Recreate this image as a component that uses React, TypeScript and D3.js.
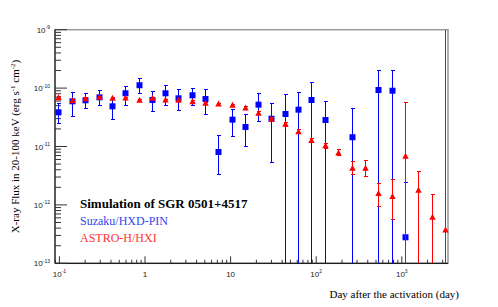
import React from "react";
import * as d3 from "d3";

// days after the activation (log axis)
const suzakuDays = [0.097, 0.14, 0.2, 0.29, 0.41, 0.59, 0.84, 1.2, 1.7, 2.45, 3.5, 5.0, 7.2, 10.3, 14.7, 21, 30, 43, 62, 88, 127, 260, 530, 760, 1100];
const suzakuFlux = [3.85e-11, 5.94e-11, 6.18e-11, 6.95e-11, 4.88e-11, 8.15e-11, 1.12e-10, 6.25e-11, 8.15e-11, 6.68e-11, 7.53e-11, 6.5e-11, 8.05e-12, 2.88e-11, 2.16e-11, 5.2e-11, 2.99e-11, 3.6e-11, 4.27e-11, 6.25e-11, 2.84e-11, 1.44e-11, 9.27e-11, 9.02e-11, 2.79e-13];
const suzakuHi = [5.49e-11, 8.47e-11, 7.93e-11, 9.17e-11, 6.68e-11, 1.07e-10, 1.47e-10, 8.67e-11, 1.09e-10, 9.54e-11, 9.77e-11, 9.54e-11, 1.56e-11, 4.34e-11, 3.51e-11, 8.02e-11, 5.41e-11, 7.62e-11, 8.47e-11, 1.26e-10, 6.01e-11, 4.51e-11, 2.02e-10, 2.02e-10, 2.44e-12];
// 0 = error bar reaches below the axis
const suzakuLo = [2.5e-11, 3.24e-11, 4.51e-11, 4.94e-11, 2.92e-11, 5.0e-11, 7.93e-11, 3.9e-11, 5.0e-11, 4.1e-11, 5.07e-11, 3.56e-11, 3.34e-12, 1.46e-11, 1.01e-11, 2.66e-11, 5.36e-12, 0, 0, 0, 0, 0, 0, 0, 0];

const hxiDays = [0.097, 0.14, 0.2, 0.29, 0.41, 0.59, 0.84, 1.2, 1.7, 2.45, 3.5, 5.0, 7.2, 10.3, 14.7, 21, 30, 43, 62, 88, 127, 181, 260, 372, 530, 760, 1100, 1560, 2230, 3200];
const hxiFlux = [6.85e-11, 6.09e-11, 6.58e-11, 6.95e-11, 6.68e-11, 6.76e-11, 6.18e-11, 6.68e-11, 6.25e-11, 6.18e-11, 5.85e-11, 5.49e-11, 5.34e-11, 5.07e-11, 4.56e-11, 3.7e-11, 2.92e-11, 2.4e-11, 1.79e-11, 1.27e-11, 1.03e-11, 7.74e-12, 4.24e-12, 4.24e-12, 1.57e-12, 1.39e-12, 6.79e-12, 1.78e-12, 6.14e-13, 3.72e-13];
const hxiHi = [7.1e-11, 6.3e-11, 6.8e-11, 7.2e-11, 6.9e-11, 7.0e-11, 6.4e-11, 6.9e-11, 6.5e-11, 6.4e-11, 6.05e-11, 5.7e-11, 5.55e-11, 5.3e-11, 4.8e-11, 3.9e-11, 3.1e-11, 2.6e-11, 1.95e-11, 1.37e-11, 1.135e-11, 9.06e-12, 5.58e-12, 5.81e-12, 2.32e-12, 2.74e-12, 5.71e-11, 3.8e-12, 1.48e-12, 2e-9];
const hxiLo = [6.6e-11, 5.9e-11, 6.35e-11, 6.7e-11, 6.45e-11, 6.5e-11, 5.95e-11, 6.45e-11, 6.0e-11, 5.95e-11, 5.65e-11, 5.3e-11, 5.1e-11, 4.85e-11, 4.3e-11, 3.5e-11, 2.75e-11, 2.22e-11, 1.65e-11, 1.17e-11, 9.3e-12, 6.95e-12, 3.32e-12, 3.04e-12, 9.4e-13, 5.67e-13, 0, 0, 0, 0];

const xTickVals = [0.1, 1, 10, 100, 1000];
const xTickLabels = [["10", "-1"], ["1", ""], ["10", ""], ["10", "2"], ["10", "3"]];
const yTickVals = [1e-9, 1e-10, 1e-11, 1e-12, 1e-13];
const yTickExps = ["-9", "-10", "-11", "-12", "-13"];

const legendTitle = "Simulation of SGR 0501+4517";
const seriesNames = ["Suzaku/HXD-PIN", "ASTRO-H/HXI"];

const W = 498;
const H = 307;
const left = 55, right = 448, top = 29.7, bottom = 263.3;

const x = d3.scaleLog().domain([0.0888, 3465]).range([left, right]);
const y = d3.scaleLog().domain([1e-13, 1e-9]).range([bottom, top]);

const blue = "#0000ff";
const red = "#ff0000";

// snap to pixel centre so overlapping red/blue bars don't blur into black
const px = (v: number) => Math.round(v) + 0.5;

function errY(v: number) {
  if (v <= 0) return bottom;
  return Math.max(top, Math.min(bottom, y(v)));
}

function ErrorBars({ days, hi, lo, color }: any) {
  return (
    <g stroke={color} strokeWidth={1} shapeRendering="crispEdges">
      {days.map((d: number, i: number) => {
        const cx = px(x(d));
        const y1 = errY(hi[i]);
        const y2 = errY(lo[i]);
        return (
          <g key={i}>
            <line x1={cx} x2={cx} y1={y1} y2={y2} />
            {y1 > top && <line x1={cx - 2} x2={cx + 2} y1={y1} y2={y1} />}
            {y2 < bottom && <line x1={cx - 2} x2={cx + 2} y1={y2} y2={y2} />}
          </g>
        );
      })}
    </g>
  );
}

export default function App() {
  const serif = "'Liberation Serif', 'Times New Roman', serif";
  const sans = "'Liberation Sans', Arial, sans-serif";
  const xMinor = x.ticks();
  const yMinor = y.ticks();
  const isDecade = (v: number) => Math.abs(Math.log10(v) - Math.round(Math.log10(v))) < 1e-6;

  return (
    <svg width={W} height={H} style={{ position: "absolute", left: 0, top: 0, background: "#fff" }}>
      {/* frame */}
      <rect x={left} y={top} width={right - left} height={bottom - top} fill="none" stroke="#999" strokeWidth={1.5} />
      <line x1={left} x2={left} y1={top} y2={bottom} stroke="#000" />
      <line x1={left} x2={right} y1={bottom} y2={bottom} stroke="#000" />

      {/* x ticks */}
      <g stroke="#333">
        {xMinor.map((v, i) => {
          const len = isDecade(v) ? 7 : 3.5;
          return <line key={i} x1={x(v)} x2={x(v)} y1={bottom} y2={bottom - len} />;
        })}
      </g>
      {/* y ticks */}
      <g stroke="#333">
        {yMinor.map((v, i) => {
          const len = isDecade(v) ? 12 : 6;
          return <line key={i} x1={left} x2={left + len} y1={y(v)} y2={y(v)} />;
        })}
      </g>

      {/* tick labels */}
      <g fontFamily={sans} fontSize={8} fill="#222">
        {xTickVals.map((v, i) => (
          <text key={i} x={x(v)} y={276.5} textAnchor="middle">
            {xTickLabels[i][0]}
            {xTickLabels[i][1] && (
              <tspan fontSize={5} dy={-3.5}>{xTickLabels[i][1]}</tspan>
            )}
          </text>
        ))}
        {yTickVals.map((v, i) => (
          <text key={i} x={50} y={y(v) + 3} textAnchor="end">
            10<tspan fontSize={5} dy={-3.5}>{yTickExps[i]}</tspan>
          </text>
        ))}
      </g>

      {/* axis titles */}
      <text
        transform={`translate(19, ${(top + bottom) / 2}) rotate(-90)`}
        textAnchor="middle"
        fontFamily={serif}
        fontSize={11}
        fill="#000"
      >
        X-ray Flux in 20-100 keV (erg s<tspan fontSize={7} dy={-4}>-1</tspan>
        <tspan dy={4}> cm</tspan><tspan fontSize={7} dy={-4}>-2</tspan>
        <tspan dy={4}>)</tspan>
      </text>
      <text x={459} y={298} textAnchor="end" fontFamily={serif} fontSize={11} fill="#000">
        Day after the activation (day)
      </text>

      {/* data: Suzaku */}
      <ErrorBars days={suzakuDays} hi={suzakuHi} lo={suzakuLo} color={blue} />
      <g fill={blue}>
        {suzakuDays.map((d, i) => (
          <rect key={i} x={px(x(d)) - 3} y={y(suzakuFlux[i]) - 3} width={6} height={6} />
        ))}
      </g>

      {/* data: ASTRO-H */}
      <ErrorBars days={hxiDays} hi={hxiHi} lo={hxiLo} color={red} />
      <g fill={red}>
        {hxiDays.map((d, i) => {
          const cx = px(x(d));
          const cy = y(hxiFlux[i]);
          return <path key={i} d={`M${cx},${cy - 3.5}L${cx + 3.2},${cy + 2.5}L${cx - 3.2},${cy + 2.5}Z`} />;
        })}
      </g>

      {/* legend */}
      <g fontFamily={serif} fontSize={12}>
        <text x={80} y={208} fontWeight="bold" fontSize={13} fill="#000">{legendTitle}</text>
        <text x={80} y={225} fill="#3344ee">{seriesNames[0]}</text>
        <text x={80} y={242} fill="#ff3333">{seriesNames[1]}</text>
      </g>
    </svg>
  );
}
